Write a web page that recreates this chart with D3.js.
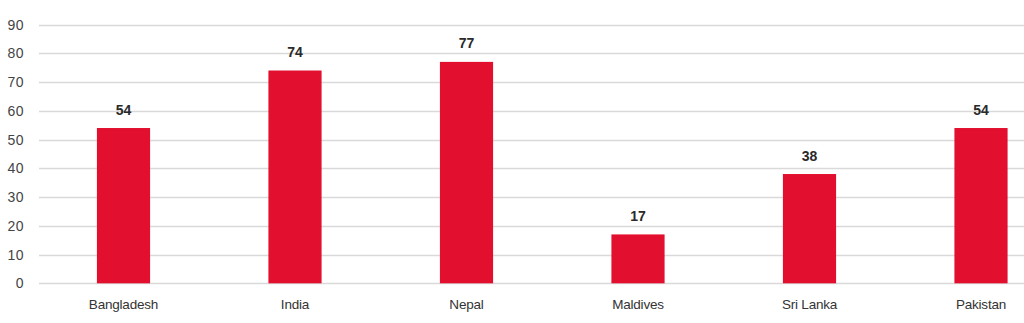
<!DOCTYPE html>
<html>
<head>
<meta charset="utf-8">
<script src="https://cdn.jsdelivr.net/npm/d3@7"></script>
<style>
  body { margin: 0; background: #fff; }
  svg { display: block; font-family: "Liberation Sans", Arial, sans-serif; }
</style>
</head>
<body>
<script>
// data
var countries = ["Bangladesh", "India", "Nepal", "Maldives", "Sri Lanka", "Pakistan"];
var values = [54, 74, 77, 17, 38, 54];
var yTicks = [0, 10, 20, 30, 40, 50, 60, 70, 80, 90];

function draw() {
    var w = 1024;
    var h = 323;
    var svg = d3.select("body")
        .append("svg")
        .attr("width", w)
        .attr("height", h);

    // the plot runs past the right edge in the original, so the band range does too
    var x = d3.scaleBand()
        .domain(countries)
        .range([37.75, 37.75 + 6 * 171.5])
        .paddingInner(0.69)
        .paddingOuter(0.345);

    var y = d3.scaleLinear()
        .domain([0, 90])
        .range([283.3, 24.5]);

    // gridlines
    svg.selectAll("line.grid")
        .data(yTicks)
        .enter()
        .append("line")
        .attr("class", "grid")
        .attr("x1", 39)
        .attr("x2", w)
        .attr("y1", function(d) { return Math.round(y(d)) + 0.5; })
        .attr("y2", function(d) { return Math.round(y(d)) + 0.5; })
        .attr("stroke", "#d9d9d9")
        .attr("stroke-width", 1.5);

    // y tick labels
    svg.selectAll("text.ytick")
        .data(yTicks)
        .enter()
        .append("text")
        .attr("class", "ytick")
        .attr("x", 24)
        .attr("y", function(d) { return y(d) + 5; })
        .attr("text-anchor", "end")
        .attr("font-size", 14)
        .attr("letter-spacing", 0.5)
        .attr("fill", "#444")
        .text(function(d) { return d; });

    // bars
    svg.selectAll("rect.bar")
        .data(values)
        .enter()
        .append("rect")
        .attr("class", "bar")
        .attr("x", function(d, i) { return x(countries[i]); })
        .attr("width", x.bandwidth())
        .attr("y", function(d) { return y(d); })
        .attr("height", function(d) { return y(0) - y(d); })
        .attr("fill", "#e20f2f");

    // value labels
    svg.selectAll("text.val")
        .data(values)
        .enter()
        .append("text")
        .attr("class", "val")
        .attr("x", function(d, i) { return x(countries[i]) + x.bandwidth() / 2; })
        .attr("y", function(d) { return y(d) - 13.5; })
        .attr("text-anchor", "middle")
        .attr("font-size", 14)
        .attr("font-weight", "bold")
        .attr("fill", "#2a2a2a")
        .text(function(d) { return d; });

    // category labels
    svg.selectAll("text.cat")
        .data(countries)
        .enter()
        .append("text")
        .attr("class", "cat")
        .attr("x", function(d) { return x(d) + x.bandwidth() / 2; })
        .attr("y", 309)
        .attr("text-anchor", "middle")
        .attr("font-size", 13.5)
        .attr("letter-spacing", -0.2)
        .attr("fill", "#333")
        .text(function(d) { return d; });
}

window.onload = draw;
</script>
</body>
</html>
